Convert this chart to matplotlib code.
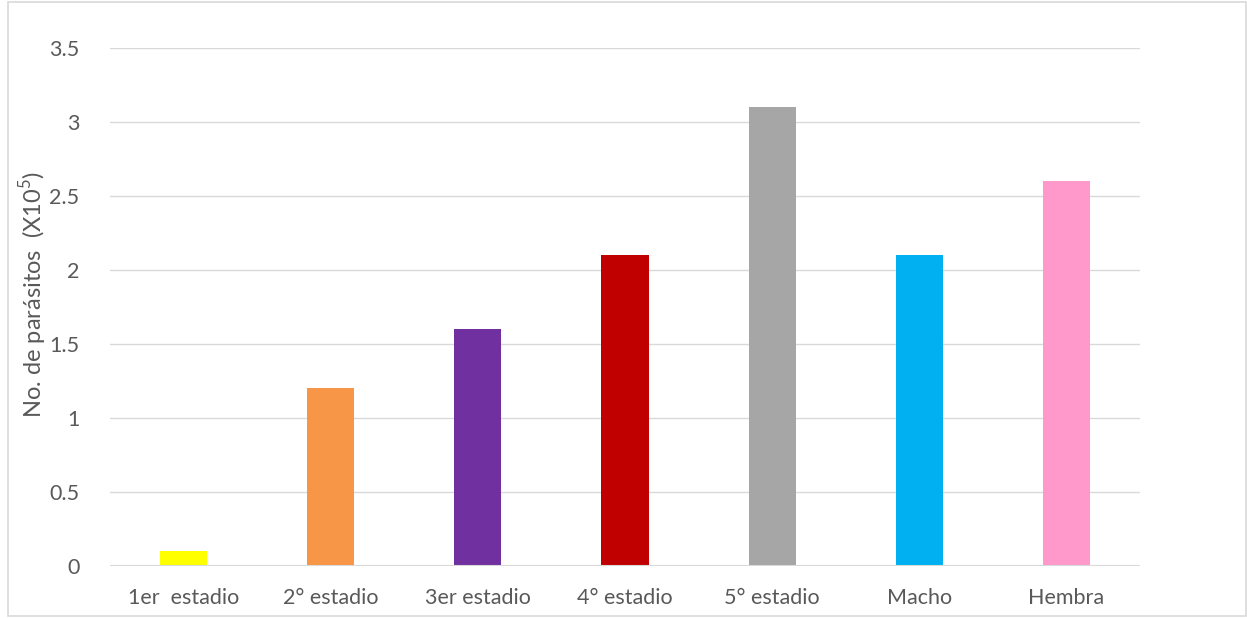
import matplotlib
matplotlib.use("Agg")
import matplotlib.pyplot as plt
from matplotlib.patches import Rectangle

plt.rcParams['font.family'] = ['Lato', 'DejaVu Sans']
plt.rcParams['mathtext.fontset'] = 'custom'
plt.rcParams['mathtext.rm'] = 'Lato'

# ----- data -----
categories = ['1er  estadio', '2° estadio', '3er estadio', '4° estadio',
              '5° estadio', 'Macho', 'Hembra']
values = [0.1, 1.2, 1.6, 2.1, 3.1, 2.1, 2.6]
colors = ['#ffff00', '#f79646', '#7030a0', '#c00000',
          '#a6a6a6', '#00b0f0', '#ff99cc']
yticks = [0, 0.5, 1, 1.5, 2, 2.5, 3, 3.5]
ytick_labels = ['0', '0.5', '1', '1.5', '2', '2.5', '3', '3.5']

W, H = 1247, 618
text_color = '#595959'
grid_color = '#d9d9d9'

fig = plt.figure(figsize=(W / 100, H / 100), dpi=100)
ax = fig.add_axes([110 / W, (H - 566) / H, (1140 - 110) / W, (566 - 48) / H])

x = range(len(categories))
ax.bar(x, values, width=0.32, color=colors, zorder=3)

ax.set_xlim(-0.5, len(categories) - 0.5)
ax.set_ylim(0, 3.5)
ax.set_yticks(yticks)
ax.set_yticklabels(ytick_labels)
ax.set_xticks(list(x))
ax.set_xticklabels(categories)

ax.grid(axis='y', color=grid_color, linewidth=1, zorder=0)
ax.axhline(0, color=grid_color, linewidth=1.5, zorder=4)
for s in ax.spines.values():
    s.set_visible(False)

ax.tick_params(axis='both', length=0, labelsize=15.5, colors=text_color)
ax.tick_params(axis='y', pad=22)
ax.tick_params(axis='x', pad=16)

# y label centred about 294 px from the top
fig.text(33 / W, (H - 294) / H,
         r'No. de parásitos  (X10$^{5}$)', rotation=90,
         ha='center', va='center', fontsize=17, color=text_color)

# outer chart border
fig.patches.append(Rectangle((8 / W, 2 / H), (1246 - 8) / W, (616 - 2) / H,
                             transform=fig.transFigure, fill=False,
                             edgecolor=grid_color, linewidth=1.2))

fig.savefig('out.png', dpi=100)
